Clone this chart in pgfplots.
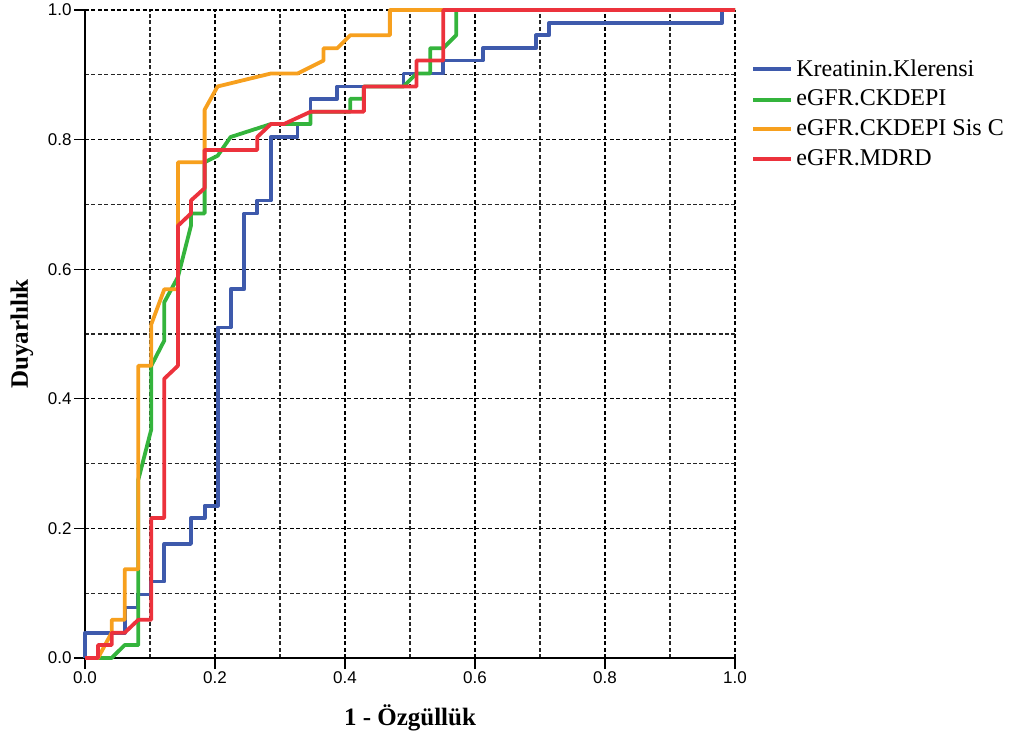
\documentclass[border=0pt]{standalone}
\usepackage{pgfplots}
\pgfplotsset{compat=1.18}
\usepackage{fontspec}
\setmainfont{Liberation Serif}
\newfontfamily\arial{Liberation Sans}
\definecolor{cblue}{RGB}{62,90,172}
\definecolor{cgreen}{RGB}{52,180,60}
\definecolor{corange}{RGB}{247,160,30}
\definecolor{cred}{RGB}{236,50,60}
\begin{document}
\begin{tikzpicture}
\begin{axis}[
    scale only axis,
    width=325pt, height=324pt,
    xmin=0, xmax=1, ymin=0, ymax=1,
    axis x line*=bottom, axis y line*=left,
    axis line style={-, black, line width=0.7pt},
    xtick={0,0.2,...,1.0}, ytick={0,0.2,...,1.0},
    minor tick num=1,
    grid=both,
    major grid style={black, line width=0.6pt, dash pattern=on 2pt off 1.2pt},
    minor grid style={black!85, line width=0.6pt, dash pattern=on 2pt off 1.2pt},
    tick align=outside,
    major tick length=5.5pt, minor tick length=0pt,
    tick style={black, line width=0.6pt},
    /pgf/number format/.cd, fixed, fixed zerofill, precision=1, assume math mode=true,
    /pgfplots/.cd,
    tick label style={font=\arial\fontsize{8.5}{10}\selectfont},
    xticklabel style={inner sep=1pt},
    yticklabel style={inner sep=1pt},
    xlabel={1 - Özgüllük},
    ylabel={Duyarlılık},
    xlabel style={font=\bfseries\fontsize{12.5}{14}\selectfont, at={(axis description cs:0.5,-0.0926)}, anchor=center},
    ylabel style={font=\bfseries\fontsize{12.5}{14}\selectfont, at={(axis description cs:-0.097,0.5)}, anchor=center},
    clip=false,
    legend cell align=left,
    legend style={draw=none, fill=none, at={(1,1)}, anchor=north west,
        xshift=8pt, yshift=-23pt, inner sep=0pt,
        font=\fontsize{12}{14.5}\selectfont, row sep=2.5pt,
        nodes={inner sep=1.5pt}},
    legend image code/.code={\draw[#1, line width=2pt] (0pt,0pt) -- (19pt,0pt);},
    every axis plot/.append style={line width=1.9pt, line join=round},
]
\addplot[cblue] coordinates {
(0,0) (0,0.039) (0.061,0.039) (0.061,0.078) (0.082,0.078) (0.082,0.098)
(0.102,0.098) (0.102,0.118) (0.122,0.118) (0.122,0.176) (0.163,0.176)
(0.163,0.216) (0.184,0.216) (0.184,0.235) (0.204,0.235) (0.204,0.510)
(0.224,0.510) (0.224,0.569) (0.245,0.569) (0.245,0.686) (0.265,0.686)
(0.265,0.706) (0.286,0.706) (0.286,0.804) (0.327,0.804) (0.327,0.824)
(0.347,0.824) (0.347,0.863) (0.388,0.863) (0.388,0.882) (0.490,0.882)
(0.490,0.902) (0.551,0.902) (0.551,0.922) (0.612,0.922) (0.612,0.941)
(0.694,0.941) (0.694,0.961) (0.714,0.961) (0.714,0.980) (0.980,0.980)
(0.980,1) (1,1)};
\addlegendentry{Kreatinin.Klerensi}
\addplot[cgreen] coordinates {
(0,0) (0.041,0) (0.061,0.020) (0.082,0.020) (0.082,0.275) (0.102,0.353)
(0.102,0.451) (0.122,0.490) (0.122,0.549) (0.143,0.588) (0.163,0.667)
(0.163,0.686) (0.184,0.686) (0.184,0.765) (0.204,0.775) (0.224,0.804)
(0.286,0.824) (0.347,0.824) (0.347,0.843) (0.408,0.843) (0.408,0.863)
(0.429,0.863) (0.429,0.882) (0.490,0.882) (0.510,0.902) (0.531,0.902)
(0.531,0.941) (0.551,0.941) (0.571,0.961) (0.571,1) (1,1)};
\addlegendentry{eGFR.CKDEPI}
\addplot[corange] coordinates {
(0,0) (0.020,0) (0.041,0.039) (0.041,0.059) (0.061,0.059) (0.061,0.137)
(0.082,0.137) (0.082,0.451) (0.102,0.451) (0.102,0.515) (0.122,0.569)
(0.143,0.569) (0.143,0.765) (0.184,0.765) (0.184,0.846) (0.204,0.882)
(0.286,0.902) (0.327,0.902) (0.367,0.922) (0.367,0.941) (0.388,0.941)
(0.408,0.961) (0.469,0.961) (0.469,1) (1,1)};
\addlegendentry{eGFR.CKDEPI Sis C}
\addplot[cred] coordinates {
(0,0) (0.020,0) (0.020,0.020) (0.041,0.020) (0.041,0.039) (0.061,0.039)
(0.082,0.059) (0.102,0.059) (0.102,0.216) (0.122,0.216) (0.122,0.431)
(0.143,0.451) (0.143,0.667) (0.163,0.686) (0.163,0.706) (0.184,0.725)
(0.184,0.784) (0.265,0.784) (0.265,0.804) (0.286,0.824) (0.306,0.824)
(0.347,0.843) (0.429,0.843) (0.429,0.882) (0.510,0.882) (0.510,0.922)
(0.551,0.922) (0.551,1) (1,1)};
\addlegendentry{eGFR.MDRD}
\coordinate (sw) at (rel axis cs:0,0);
\end{axis}
\pgfresetboundingbox
\path (sw) ++(-42.5pt,-38.5pt) rectangle ++(510pt,367.5pt);
\end{tikzpicture}
\end{document}
